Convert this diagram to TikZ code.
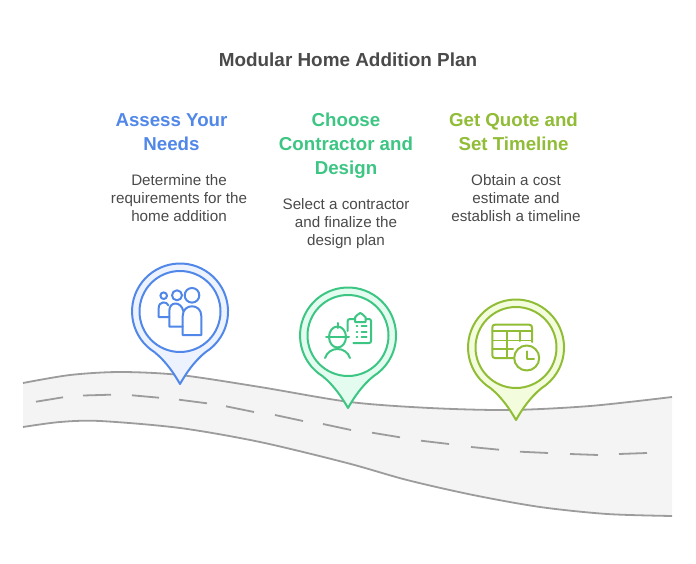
\documentclass[tikz,border=0pt]{standalone}
\usepackage{fontspec}
\setmainfont{Liberation Sans}
\definecolor{pinblue}{HTML}{5087E8}
\definecolor{pinbluefill}{HTML}{ECF3FE}
\definecolor{pingreen}{HTML}{3CC583}
\definecolor{pingreenfill}{HTML}{E4FCF0}
\definecolor{pinolive}{HTML}{90BC36}
\definecolor{pinolivefill}{HTML}{F3FDDD}
\definecolor{roadfill}{HTML}{F4F4F4}
\definecolor{roadline}{HTML}{9C9C9C}
\definecolor{bodytext}{HTML}{4A4A4A}
\newcommand{\drawpin}[4]{%
    \filldraw[fill=#4, draw=#3, line width=2pt, line join=round] (#1,#2+72.5) .. controls (#1-6,#2+62) and (#1-14,#2+50) .. (#1-25.4,#2+40.7)
        arc[start angle=122, end angle=418, radius=48] .. controls (#1+14,#2+50) and (#1+6,#2+62) .. cycle;
    \filldraw[fill=white, draw=#3, line width=2pt] (#1,#2) circle[radius=40.5];
}
\begin{document}
\begin{tikzpicture}[x=1pt, y=-1pt,
    title/.style={font=\fontsize{18.9}{22}\selectfont\bfseries, text=bodytext},
    head/.style={font=\fontsize{18.7}{24}\selectfont\bfseries, align=center},
    body/.style={font=\fontsize{15.2}{18}\selectfont, text=bodytext, align=center},
    roadedge/.style={draw=roadline, line width=1.8pt},
    icon/.style={line width=2pt, line cap=round, line join=round}]
    \useasboundingbox (0,0) rectangle (696,564);
    % road
    \fill[roadfill] plot[smooth] coordinates {(23,383) (70,375) (120,372) (180,375) (260,387) (350,402) (430,408) (510,410) (590,406) (672,397)}
        -- plot[smooth] coordinates {(672,516) (607,514) (540,507) (473,495) (407,480) (347,463) (260,442) (180,428) (100,421) (60,422) (23,427)} -- cycle;
    \draw[roadedge] plot[smooth] coordinates {(23,383) (70,375) (120,372) (180,375) (260,387) (350,402) (430,408) (510,410) (590,406) (672,397)};
    \draw[roadedge] plot[smooth] coordinates {(23,427) (60,422) (100,421) (180,428) (260,442) (347,463) (407,480) (473,495) (540,507) (607,514) (672,516)};
    \foreach \xa/\ya/\xb/\yb in {36/401.7/63/397.3, 83/395.5/111/394.7, 132/395.3/159/397.7, 179/399.7/207/403.3, 226/406.3/254/412, 275/415/303/421, 323/424/351/430, 372/432.7/400/437.3, 421/440.7/449/444, 471/447/499/449.7, 520/451.7/548/453, 570/454/598/455, 619/454/647/453}
        \draw[roadline, line width=1.8pt] (\xa,\ya) -- (\xb,\yb);
    % pins
    \drawpin{180}{311.5}{pinblue}{pinbluefill}
    \drawpin{348}{335.5}{pingreen}{pingreenfill}
    \drawpin{516}{347.5}{pinolive}{pinolivefill}
    % people
    \begin{scope}[pinblue, icon]
        \draw (163.7,295.7) circle[radius=3.3];
        \draw (177,295.3) circle[radius=5];
        \draw (192,295.3) circle[radius=7.3];
        \draw (169.3,317) -- (158.7,317) -- (158.7,308) .. controls (158.7,301) and (167,301) .. (168.5,305.5);
        \draw (182.7,326.7) -- (169.3,326.7) -- (169.3,311) .. controls (169.3,301) and (181,301) .. (183.3,311);
        \draw (182.7,335) -- (201.3,335) -- (201.3,316) .. controls (201.3,303) and (182.7,303) .. (182.7,316) -- cycle;
    \end{scope}
    % worker and clipboard
    \begin{scope}[pingreen, icon]
        \draw (326,337) -- (349,337);
        \draw (337.5,337) ellipse[x radius=8.5, y radius=10.5];
        \draw (337.5,323) -- (337.5,328);
        \draw (325,358) .. controls (329,346) and (346,346) .. (350,358);
        \draw (347.7,331) -- (347.7,321) .. controls (347.7,319.7) and (348.7,319) .. (350,319) -- (355,319);
        \draw (355,322) -- (355,317.5) .. controls (357,316.5) and (357.5,313) .. (360.3,313) .. controls (363,313) and (363.5,316.5) .. (365.7,317.5) -- (365.7,322) -- cycle;
        \draw (365.7,319) -- (369,319) .. controls (370.3,319) and (371,319.7) .. (371,321) -- (371,341) .. controls (371,342.3) and (370.3,343) .. (369,343) -- (353.3,343);
        \foreach \yy in {326,331.5,337}
            \draw (356.5,\yy) -- (357.3,\yy) (361.7,\yy) -- (366.7,\yy);
    \end{scope}
    % table and clock
    \begin{scope}[pinolive, icon]
        \draw (513,358) -- (495,358) .. controls (493,358) and (492.3,357) .. (492.3,355) -- (492.3,327.7) .. controls (492.3,325.5) and (493,324.7) .. (495,324.7) -- (529,324.7) .. controls (531,324.7) and (532,325.5) .. (532,327.7) -- (532,342);
        \draw (492.3,331.3) -- (532,331.3);
        \draw[line width=1pt] (492.3,340.3) -- (532,340.3);
        \draw (492.3,349.3) -- (513,349.3);
        \draw (507.3,331.3) -- (507.3,358);
        \draw (519.7,331.3) -- (519.7,341);
        \filldraw[fill=white] (526.7,358) circle[radius=12.5];
        \draw (526.7,351.3) -- (526.7,358.7) -- (534,358.7);
    \end{scope}
    % texts
    \node[title] (plantitle) at (348,60) {Modular Home Addition Plan};
    \node[head, text=pinblue] (assesshead) at (171.5,132) {Assess Your\\Needs};
    \node[body] (assessbody) at (179,198) {Determine the\\requirements for the\\home addition};
    \node[head, text=pingreen] (choosehead) at (346,146) {Choose\\Contractor and\\Design};
    \node[body] (choosebody) at (346,224) {Select a contractor\\and finalize the\\design plan};
    \node[head, text=pinolive] (quotehead) at (513.5,132) {Get Quote and\\Set Timeline};
    \node[body] (quotebody) at (516,198) {Obtain a cost\\estimate and\\establish a timeline};
\end{tikzpicture}
\end{document}
